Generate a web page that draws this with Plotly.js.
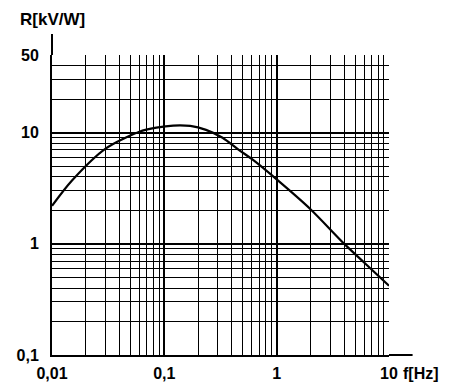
<!DOCTYPE html>
<html>
<head>
<meta charset="utf-8">
<script src="https://cdn.plot.ly/plotly-3.0.1.min.js"></script>
<style>html,body{margin:0;padding:0;background:#fff;}#chart{width:455px;height:383px;}</style>
</head>
<body>
<div id="chart"></div>
<script>
// Data (frequency in Hz, R in kV/W)
const freqHz = [0.01, 0.015, 0.03, 0.06, 0.085, 0.12, 0.17, 0.235, 0.33, 0.46, 0.6, 1, 2, 4, 6, 10];
const resistance = [2.2, 3.7, 7.2, 10.2, 11.1, 11.6, 11.5, 10.6, 9.0, 7.0, 5.8, 3.8, 2.05, 1.0, 0.68, 0.42];

const xTickVals = [0.01, 0.1, 1, 10];
const xTickText = ['0,01', '0,1', '1', '10'];
const yTickVals = [0.1, 1, 10, 50];
const yTickText = ['0,1', '1', '10', '50'];

function minorVals(startExp, endExp, maxVal) {
  const v = [];
  for (let e = startExp; e <= endExp; e++) {
    for (let m = 2; m <= 9; m++) {
      const val = m * Math.pow(10, e);
      if (val < maxVal) v.push(val);
    }
  }
  return v;
}

const font = {family: 'Arial, "Liberation Sans", sans-serif', size: 16, color: '#000', weight: 'bold'};

const trace = {
  x: freqHz, y: resistance, type: 'scatter', mode: 'lines',
  line: {color: '#000', width: 2.2, shape: 'spline', smoothing: 0.8},
  hoverinfo: 'skip'
};

const layout = {
  width: 455, height: 383,
  margin: {l: 52, r: 66, t: 55, b: 28},
  paper_bgcolor: '#fff', plot_bgcolor: '#fff',
  showlegend: false,
  font: font,
  xaxis: {
    type: 'log', range: [-2, 1],
    tickmode: 'array', tickvals: xTickVals, ticktext: xTickText,
    showgrid: true, gridcolor: '#000', gridwidth: 2,
    showline: true, linecolor: '#000', linewidth: 2,
    ticks: '', ticklabelstandoff: 3,
    tickfont: font, zeroline: false,
    minor: {tickmode: 'array', tickvals: minorVals(-2, 0, 10), showgrid: true, gridcolor: '#000', gridwidth: 1, ticks: ''}
  },
  yaxis: {
    type: 'log', range: [-1, Math.log10(50)],
    tickmode: 'array', tickvals: yTickVals, ticktext: yTickText,
    showgrid: true, gridcolor: '#000', gridwidth: 2,
    showline: true, linecolor: '#000', linewidth: 2,
    ticks: '', ticklabelstandoff: 8,
    tickfont: font, zeroline: false,
    minor: {tickmode: 'array', tickvals: minorVals(-1, 1, 50), showgrid: true, gridcolor: '#000', gridwidth: 1, ticks: ''}
  },
  shapes: [
    {type: 'line', xref: 'paper', yref: 'paper', x0: 0, x1: 0, y0: 1, y1: 1.07, line: {color: '#000', width: 2}},
    {type: 'line', xref: 'paper', yref: 'paper', x0: 1, x1: 1.07, y0: 0, y1: 0, line: {color: '#000', width: 2}}
  ],
  annotations: [
    {text: 'R[kV/W]', xref: 'paper', yref: 'paper', x: -0.1, y: 1.117, xanchor: 'left', yanchor: 'middle', showarrow: false, font: {family: font.family, size: 17, color: '#000', weight: 'bold'}},
    {text: 'f[Hz]', xref: 'paper', yref: 'paper', x: 1.035, y: 0, yshift: -18, xanchor: 'left', yanchor: 'middle', showarrow: false, font: {family: font.family, size: 16, color: '#000', weight: 'bold'}}
  ]
};

Plotly.newPlot('chart', [trace], layout, {displayModeBar: false, staticPlot: true});
</script>
</body>
</html>
